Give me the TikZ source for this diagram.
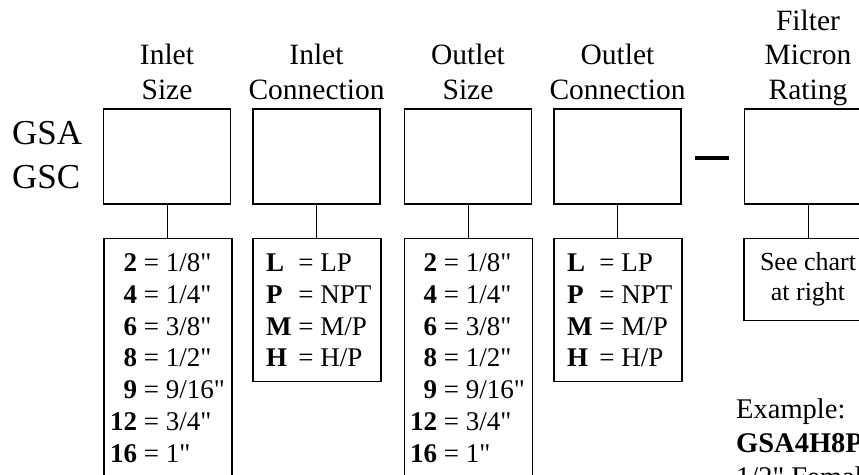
\documentclass[tikz,border=0pt]{standalone}
\usepackage{fontspec}
\setmainfont{Liberation Serif}[Ligatures=TeXOff]
\usetikzlibrary{positioning}

\begin{document}
\begin{tikzpicture}[x=1pt, y=-1pt,
    selbox/.style={draw, line width=1.1pt, minimum width=127pt, minimum height=95pt, inner sep=0pt},
    codebox/.style={draw, line width=1.1pt, minimum width=128pt, anchor=north, inner sep=0pt},
    head/.style={align=center, anchor=base, inner sep=0pt, font=\fontsize{29.5}{34.5}\selectfont},
    codes/.style={anchor=base west, inner sep=0pt, font=\fontsize{27}{31.8}\selectfont},
    link/.style={line width=0.9pt}]
    \useasboundingbox (0,0) rectangle (859,474);
    \clip (0,0) rectangle (859,474);

    % model prefix
    \node[anchor=base west, inner sep=0pt, font=\fontsize{35}{44}\selectfont] (prefix) at (12,144)
        {\begin{tabular}[t]{@{}l@{}}GSA\\GSC\end{tabular}};

    % selection boxes
    \node[selbox] (inlsize) at (167,156.5) {};
    \node[selbox] (inlconn) at (316.5,156.5) {};
    \node[selbox] (outsize) at (468,156.5) {};
    \node[selbox] (outconn) at (617.5,156.5) {};
    \node[selbox] (micron) at (808,156.5) {};
    \draw[line width=4pt] (695,158) -- (729,158);

    % headings (base = last line)
    \node[head] (inlsizehead) at (167,99) {Inlet\\Size};
    \node[head] (inlconnhead) at (316.5,99) {Inlet\\Connection};
    \node[head] (outsizehead) at (468,99) {Outlet\\Size};
    \node[head] (outconnhead) at (617.5,99) {Outlet\\Connection};
    \node[head] (micronhead) at (808,99) {Filter\\Micron\\Rating};

    % code lists
    \node[codebox, minimum height=260pt] (inlsizelist) at (168,238) {};
    \node[codebox, minimum height=143pt] (inlconnlist) at (317,238) {};
    \node[codebox, minimum height=260pt] (outsizelist) at (468.5,238) {};
    \node[codebox, minimum height=143pt] (outconnlist) at (618,238) {};
    \node[codebox, minimum height=82pt] (micronlist) at (808,238) {};

    \node[codes] (inlsizetext) at (110,271.5) {\begin{tabular}[t]{@{}r@{ = }l@{}}
        \textbf{2}&1/8"\\ \textbf{4}&1/4"\\ \textbf{6}&3/8"\\ \textbf{8}&1/2"\\
        \textbf{9}&9/16"\\ \textbf{12}&3/4"\\ \textbf{16}&1"\end{tabular}};
    \node[codes] (inlconntext) at (266,271.5) {\begin{tabular}[t]{@{}l@{ = }l@{}}
        \textbf{L}&LP\\ \textbf{P}&NPT\\ \textbf{M}&M/P\\ \textbf{H}&H/P\end{tabular}};
    \node[codes] (outsizetext) at (410,271.5) {\begin{tabular}[t]{@{}r@{ = }l@{}}
        \textbf{2}&1/8"\\ \textbf{4}&1/4"\\ \textbf{6}&3/8"\\ \textbf{8}&1/2"\\
        \textbf{9}&9/16"\\ \textbf{12}&3/4"\\ \textbf{16}&1"\end{tabular}};
    \node[codes] (outconntext) at (567,271.5) {\begin{tabular}[t]{@{}l@{ = }l@{}}
        \textbf{L}&LP\\ \textbf{P}&NPT\\ \textbf{M}&M/P\\ \textbf{H}&H/P\end{tabular}};
    \node[codes, anchor=base, font=\fontsize{26}{30}\selectfont] (microntext) at (808,270)
        {\begin{tabular}[t]{@{}c@{}}See chart\\at right\end{tabular}};

    \draw[link] (inlsize.south) -- (inlsizelist.north -| inlsize.south);
    \draw[link] (inlconn.south) -- (inlconnlist.north -| inlconn.south);
    \draw[link] (outsize.south) -- (outsizelist.north -| outsize.south);
    \draw[link] (outconn.south) -- (outconnlist.north -| outconn.south);
    \draw[link] (micron.south) -- (micronlist.north);

    % example
    \node[codes, font=\fontsize{28.5}{34}\selectfont] (example) at (736,418)
        {\begin{tabular}[t]{@{}l@{}}Example:\\ \textbf{GSA4H8P}\\ 1/2" Female\end{tabular}};
\end{tikzpicture}
\end{document}
